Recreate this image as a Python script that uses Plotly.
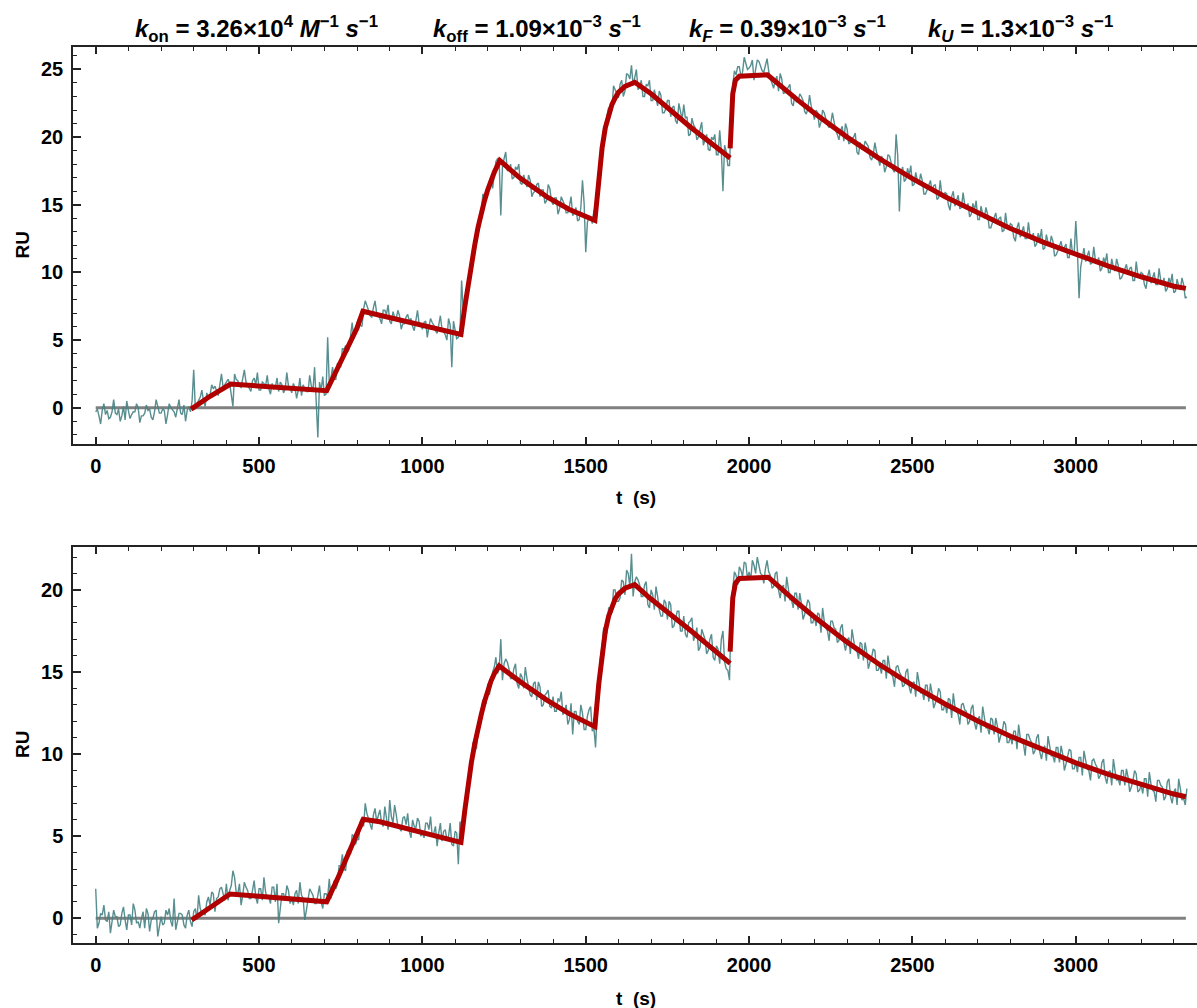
import plotly.graph_objects as go

# ---------------- data ----------------
t_data = list(range(0, 3341, 10))   # sampling times (s)
t_half = list(range(5, 3336, 10))   # interleaved sampling times (s)

top_ru = [
    # 0-290
    -0.3, -0.6, -0.2, -0.5, -0.8, -0.3, -0.4, -0.1, -0.6, -0.9,
    -0.2, -0.5, -0.3, 0.0, -0.6, -0.4, -0.2, -0.7, -0.3, 0.1,
    -0.4, -0.2, -0.5, 0.0, -0.3, -0.1, -0.4, 0.2, -0.2, -0.3,
    # 300-410
    2.8, 0.3, 0.8, 0.5, 1.1, 0.9, 1.4, 1.2, 1.7, 1.5, 2.0, 1.8,
    # 420-700
    0.1, 2.1, 1.6, 2.2, 1.9, 1.5, 2.0, 1.7, 1.3, 1.9,
    1.6, 1.4, 1.8, 1.5, 1.2, 1.7, 1.4, 1.6, 1.1, 1.5,
    1.3, 0.9, 1.4, 1.2, 1.6, 3.0, -2.2, 1.3, 0.9,
    # 710-820
    5.2, 2.2, 2.1, 3.3, 3.0, 4.3, 4.1, 5.3, 5.1, 6.3, 6.1, 7.3,
    # 830-1110
    7.6, 6.8, 7.4, 7.0, 6.6, 7.2, 6.9, 6.4, 7.1, 6.6,
    6.8, 6.2, 6.7, 6.4, 6.0, 6.6, 6.2, 5.8, 6.4, 6.0,
    6.3, 5.7, 6.1, 5.8, 5.4, 6.6, 3.0, 5.6, 5.2,
    # 1120-1230
    9.4, 7.8, 9.0, 11.0, 11.8, 13.6, 14.2, 15.6, 15.9, 17.1, 17.2, 18.4,
    # 1240-1520
    14.2, 18.4, 17.5, 18.0, 17.0, 17.6, 16.6, 17.2, 16.3, 16.8,
    15.9, 16.5, 15.6, 16.1, 15.3, 16.2, 15.0, 15.5, 14.7, 15.3,
    14.4, 14.9, 14.2, 14.8, 13.9, 16.8, 11.5, 14.1, 13.6,
    # 1530-1650
    14.3, 16.6, 19.7, 20.3, 22.2, 22.0, 23.5, 22.9, 24.2, 23.4, 24.6, 25.3, 24.3,
    # 1660-1940
    23.5, 24.2, 23.0, 23.8, 22.7, 23.5, 22.3, 23.1, 21.8, 22.7,
    21.5, 22.3, 21.0, 21.9, 22.4, 21.5, 20.2, 20.9, 19.8, 20.6,
    19.4, 20.2, 19.0, 19.8, 18.7, 20.5, 16.0, 18.9, 17.9,
    # 1950-2050
    23.8, 24.6, 25.2, 24.8, 25.5, 25.1, 25.7, 25.0, 25.6, 24.9, 25.4,
    # 2060-3340
    24.9, 24.0, 24.2, 23.4, 24.3, 23.3, 23.6, 22.5, 23.1,
    22.6, 23.0, 21.9, 22.1, 22.3, 21.3, 21.8, 21.1, 21.8, 20.9,
    21.0, 21.1, 20.2, 20.5, 19.7, 20.6, 19.6, 20.0, 18.9, 19.6,
    19.1, 19.5, 18.5, 18.7, 18.9, 17.9, 18.4, 17.8, 18.6, 17.6,
    20.2, 14.5, 17.8, 16.9, 17.2, 16.4,
    17.4, 16.5, 16.8, 15.8, 16.5, 16.0, 16.5, 15.5, 15.7, 15.9,
    15.0, 15.6, 14.9, 15.7, 14.8, 15.0, 15.1, 14.3, 14.6, 13.9,
    14.9, 14.0, 14.3, 13.3, 14.0, 13.6, 14.1, 13.1, 13.4, 13.6,
    12.6, 13.3, 12.6, 13.4, 12.5, 12.7, 12.9, 12.1, 12.4, 11.7,
    12.8, 11.9, 12.3, 11.3, 12.0, 11.6, 12.1, 11.1, 11.4, 13.8,
    8.1, 11.3, 10.8, 11.6, 10.7, 10.9, 11.1, 10.3, 10.7, 10.0,
    11.0, 10.1, 10.5, 9.6, 10.3, 9.9, 10.4, 9.4, 9.8, 10.0,
    9.1, 9.7, 9.2, 10.0, 9.1, 9.4, 9.6, 8.8, 9.2, 8.5,
    9.5, 8.7, 9.1, 8.2,
]

top_ru_half = [
    # 5-295
    -0.1, -1.2, 0.3, -0.2, -0.7, 0.6, -0.5, -1.0, 0.1, 0.5,
    -0.8, -0.3, 0.3, -1.1, -0.6, 0.2, -0.1, -0.9, 0.6, -0.4,
    -0.1, -1.2, 0.3, -0.2, -0.7, 0.6, -0.5, -1.0, 0.1, 0.5,
    # 305-405
    -0.1, 0.6, 1.3, 0.1, 0.7, 1.7, 1.6, 0.9, 2.5, 1.7, 2.1,
    # 415-705
    1.1, 2.5, 2.0, 1.5, 2.8, 1.7, 1.2, 2.2, 2.6, 1.3,
    1.8, 2.4, 1.0, 1.4, 2.2, 1.9, 1.1, 2.6, 1.5, 1.8,
    0.7, 2.2, 1.7, 1.2, 2.4, 1.3, 0.8, 1.9, 2.3, 1.0,
    # 715-825
    1.8, 3.0, 2.1, 3.1, 4.4, 4.6, 4.3, 6.3, 5.8, 6.6, 6.0, 7.9,
    # 835-1115
    7.2, 6.7, 7.9, 6.8, 6.2, 7.2, 7.6, 6.2, 6.7, 7.2,
    5.8, 6.2, 6.9, 6.6, 5.7, 7.2, 6.1, 6.3, 5.2, 6.6,
    6.1, 5.5, 6.8, 5.6, 5.0, 6.1, 6.4, 5.1, 5.5,
    # 1125-1235
    7.2, 7.6, 9.7, 11.9, 12.9, 13.3, 15.8, 15.6, 16.7, 16.2, 18.2, 18.2,
    # 1245-1525
    17.8, 18.9, 17.6, 16.9, 17.8, 18.0, 16.5, 16.8, 17.2, 15.6,
    16.0, 16.6, 16.1, 15.1, 16.5, 15.3, 15.5, 14.3, 15.6, 15.0,
    14.4, 15.6, 14.4, 13.8, 14.8, 15.1, 13.7, 14.1, 14.6,
    # 1535-1645
    14.9, 18.1, 20.7, 21.6, 21.7, 23.8, 23.2, 23.9, 23.0, 24.7, 24.3, 23.8,
    # 1655-1945
    25.0, 23.7, 23.0, 23.9, 24.2, 22.7, 23.0, 23.4, 21.8, 22.1,
    22.7, 22.2, 21.2, 22.5, 21.3, 21.4, 20.1, 21.4, 20.7, 20.0,
    21.1, 19.8, 19.1, 20.0, 20.2, 18.7, 19.0, 19.4, 17.9, 21.2,
    # 1955-2055
    24.9, 25.2, 24.5, 25.9, 25.0, 25.3, 24.2, 25.7, 25.3, 24.8, 25.8,
    # 2065-3335
    24.3, 23.6, 24.5, 24.7, 23.2, 23.5, 23.9, 22.3, 22.6, 23.2,
    22.7, 21.7, 23.1, 21.9, 22.0, 20.7, 22.0, 21.3, 20.7, 21.8,
    20.5, 19.8, 20.8, 21.0, 19.5, 19.9, 20.3, 18.7, 19.1, 19.7,
    19.3, 18.3, 19.6, 18.5, 18.6, 17.4, 18.7, 18.1, 17.4, 18.6,
    17.4, 16.7, 17.7, 17.9, 16.5, 16.8, 17.3, 15.8, 16.1, 16.8,
    16.4, 15.4, 16.8, 15.7, 15.8, 14.6, 16.0, 15.4, 14.7, 15.9,
    14.7, 14.1, 15.1, 15.3, 13.9, 14.3, 14.8, 13.3, 13.7, 14.4,
    14.0, 13.0, 14.4, 13.3, 13.5, 12.3, 13.7, 13.1, 12.5, 13.7,
    12.5, 11.9, 12.9, 13.2, 11.8, 12.2, 12.7, 11.2, 11.6, 12.3,
    11.9, 11.1, 12.5, 11.4, 11.6, 10.4, 11.8, 11.2, 10.6, 11.9,
    10.7, 10.1, 11.1, 11.4, 10.0, 10.4, 11.0, 9.5, 9.9, 10.6,
    10.3, 9.4, 10.8, 9.7, 9.9, 8.8, 10.2, 9.6, 9.1, 10.3,
    9.1, 8.6, 9.6, 9.9, 8.6, 9.0, 9.6, 8.1,
]

bottom_ru = [
    # 0-290
    1.8, -0.3, 0.2, -0.1, 0.4, -0.2, 0.1, -0.5, 0.3, -0.1,
    0.2, -0.4, 0.5, -0.2, 0.0, -0.6, 0.3, -0.1, 0.4, -1.1,
    0.1, -0.3, 0.2, -0.2, 1.2, -0.1, 0.3, -0.4, 0.2, -0.2,
    # 300-410
    0.4, -0.1, 0.6, 0.3, 1.0, 0.8, 1.5, 1.2, 1.8, 1.5, 2.1, 1.7,
    # 420-700
    2.9, 1.6, 2.1, 1.4, 1.9, 1.2, 1.7, 1.3, 1.8, 1.1,
    1.6, 1.3, 1.9, 1.0, -0.3, 1.5, 1.1, 1.7, 1.2, 1.5,
    0.9, 1.4, -0.1, 1.3, 1.6, 0.9, 1.4, 1.0, 1.5,
    # 710-820
    1.3, 1.2, 2.3, 2.1, 3.2, 3.0, 4.1, 3.9, 5.0, 4.8, 5.9, 5.6,
    # 830-1110
    6.4, 5.7, 6.3, 5.9, 6.6, 5.6, 6.2, 7.2, 5.8, 6.3,
    5.5, 6.1, 5.7, 5.3, 6.0, 5.5, 5.9, 5.2, 5.8, 5.4,
    5.0, 5.6, 5.2, 4.7, 5.4, 5.0, 4.5, 5.3, 3.3,
    # 1120-1230
    5.2, 6.4, 8.6, 9.3, 10.8, 11.3, 12.9, 13.1, 14.3, 14.2, 15.3, 14.9,
    # 1240-1520
    17.0, 15.5, 15.6, 14.6, 15.2, 14.3, 14.9, 14.0, 14.6, 13.6,
    14.3, 13.3, 14.1, 13.0, 13.7, 12.9, 13.5, 12.6, 13.2, 12.4,
    13.0, 12.1, 11.2, 12.6, 11.8, 12.5, 11.5, 12.7, 11.4,
    # 1530-1650
    10.4, 14.0, 16.6, 17.2, 18.9, 18.6, 20.0, 19.3, 20.6, 19.7, 21.0, 22.2, 20.5,
    # 1660-1940
    20.6, 19.6, 20.3, 19.1, 20.0, 18.8, 19.6, 18.4, 19.4, 18.2,
    19.1, 17.8, 18.7, 17.5, 18.4, 17.1, 18.1, 16.9, 17.7, 16.5,
    17.3, 16.1, 17.0, 15.9, 16.6, 15.5, 17.5, 15.2, 14.5,
    # 1950-2050
    20.0, 20.9, 21.4, 20.8, 21.6, 21.1, 21.8, 21.0, 21.5, 20.9, 21.3,
    # 2060-3340
    21.1, 20.1, 21.0, 20.0, 20.1, 19.3, 20.1, 19.4, 19.8, 18.8,
    19.2, 18.5, 19.4, 18.0, 18.4, 18.6, 17.4, 18.1, 17.5, 18.1,
    17.7, 16.8, 17.7, 16.8, 16.9, 16.1, 16.9, 16.3, 16.8, 15.7,
    16.2, 15.6, 16.4, 15.1, 15.4, 15.7, 14.6, 15.3, 14.7, 15.3,
    15.0, 14.1, 15.0, 14.1, 14.3, 13.5, 14.4, 13.8, 14.2, 13.2,
    13.7, 13.1, 14.0, 12.7, 13.1, 13.4, 12.2, 12.9, 12.4, 13.0,
    12.7, 11.8, 12.8, 11.9, 12.1, 11.3, 12.2, 11.6, 12.2, 11.2,
    11.7, 11.1, 12.0, 10.7, 11.1, 11.4, 10.3, 11.0, 10.6, 11.2,
    10.9, 10.0, 11.0, 10.1, 10.3, 9.6, 10.5, 9.9, 10.4, 9.5,
    10.0, 9.4, 10.3, 9.1, 9.5, 9.8, 8.7, 9.5, 9.0, 9.6,
    9.4, 8.5, 9.5, 8.6, 8.9, 8.1, 9.0, 8.5, 9.0, 8.1,
    8.6, 8.0, 9.0, 7.7, 8.1, 8.5, 7.4, 8.2, 7.7, 8.4,
    8.1, 7.2, 8.3, 7.4, 7.7, 6.9, 7.9, 7.3, 7.9,
]

bottom_ru_half = [
    # 5-295
    -0.6, 0.3, 0.8, -0.2, -0.9, 0.5, 0.1, -0.4, 0.7, -0.7,
    0.2, 0.9, -0.3, -0.6, 0.4, 0.6, -0.8, 0.0, 0.5, -0.5,
    -0.4, 0.5, 0.6, -0.5, -0.7, 0.3, 0.2, -0.6, 0.5, -0.5,
    # 305-405
    0.6, 1.4, 0.3, 0.2, 1.3, 1.6, 0.4, 1.3, 1.9, 1.1, 1.1,
    # 415-705
    2.0, 2.5, 1.5, 0.8, 2.2, 1.7, 1.2, 2.3, 0.9, 1.8,
    2.5, 1.2, 0.9, 1.9, 2.1, 0.7, 1.5, 2.0, 0.9, 0.8,
    1.7, 2.2, 1.2, 0.5, 1.8, 1.4, 0.9, 2.0, 0.6, 1.5,
    # 715-825
    2.4, 1.6, 1.8, 3.2, 3.9, 2.9, 4.2, 5.1, 4.5, 4.8, 6.1, 7.0,
    # 835-1115
    6.1, 5.4, 6.7, 6.3, 5.8, 6.8, 5.4, 6.2, 6.9, 5.6,
    5.3, 6.2, 6.4, 4.9, 5.6, 6.1, 5.0, 4.9, 5.8, 6.2,
    5.2, 4.4, 5.8, 5.3, 4.8, 5.8, 4.4, 5.2, 5.9,
    # 1125-1235
    5.4, 6.9, 9.3, 10.7, 10.3, 12.0, 13.3, 13.1, 13.6, 15.0, 15.9, 15.2,
    # 1245-1525
    14.5, 15.8, 15.2, 14.6, 15.5, 14.0, 14.7, 15.3, 14.0, 13.5,
    14.4, 14.4, 12.9, 13.6, 13.9, 12.8, 12.6, 13.4, 13.8, 12.6,
    11.8, 13.1, 12.6, 12.0, 13.0, 11.5, 12.3, 12.9, 11.6,
    # 1535-1645
    12.6, 15.9, 17.7, 17.4, 18.9, 20.0, 19.3, 19.5, 20.5, 21.2, 20.2, 19.6,
    # 1655-1945
    20.8, 20.3, 19.6, 20.5, 18.9, 19.7, 20.2, 18.8, 18.4, 19.2,
    19.3, 17.7, 18.3, 18.7, 17.5, 17.3, 18.0, 18.3, 17.2, 16.3,
    17.6, 17.0, 16.3, 17.3, 15.7, 16.4, 17.0, 15.6, 15.1, 18.4,
    # 1955-2055
    21.1, 20.3, 21.2, 21.7, 20.7, 20.6, 21.5, 22.0, 21.0, 20.4, 21.8,
    # 2065-3335
    20.9, 20.2, 21.1, 19.5, 20.3, 20.8, 19.4, 18.9, 19.8, 19.8,
    18.2, 18.9, 19.2, 18.0, 17.8, 18.5, 18.9, 17.7, 16.9, 18.1,
    17.6, 16.9, 17.9, 16.3, 17.1, 17.6, 16.3, 15.8, 16.7, 16.8,
    15.2, 15.9, 16.3, 15.1, 14.9, 15.7, 16.0, 14.9, 14.1, 15.4,
    14.8, 14.2, 15.2, 13.7, 14.4, 15.0, 13.7, 13.3, 14.2, 14.3,
    12.8, 13.4, 13.8, 12.7, 12.5, 13.3, 13.7, 12.6, 11.8, 13.1,
    12.6, 12.0, 13.0, 11.5, 12.3, 12.9, 11.6, 11.2, 12.1, 12.2,
    10.7, 11.4, 11.8, 10.7, 10.6, 11.4, 11.8, 10.7, 9.9, 11.2,
    10.7, 10.2, 11.2, 9.7, 10.5, 11.1, 9.9, 9.5, 10.4, 10.5,
    9.0, 9.8, 10.2, 9.1, 8.9, 9.8, 10.2, 9.1, 8.4, 9.7,
    9.2, 8.7, 9.7, 8.2, 9.0, 9.7, 8.4, 8.1, 9.0, 9.1,
    7.7, 8.4, 8.8, 7.8, 7.6, 8.5, 8.9, 7.8, 7.1, 8.4,
    8.0, 7.4, 8.5, 7.0, 7.9, 8.5, 7.2, 6.9,
]

top_fit_t = [292, 350, 413, 500, 600, 707, 740, 770, 800, 818, 900, 1000, 1118,
             1130, 1140, 1150, 1160, 1170, 1180, 1190, 1200, 1210, 1220, 1237,
             1300, 1380, 1450, 1528, 1540, 1550, 1560, 1570, 1580, 1590, 1600,
             1620, 1650, 1700, 1820, 1942, None,
             1942, 1945, 1950, 1958, 1970, 2056, 2100, 2150, 2200, 2300, 2400,
             2500, 2600, 2700, 2800, 2900, 3000, 3100, 3200, 3300, 3337]
top_fit_ru = [-0.1, 0.85, 1.75, 1.6, 1.43, 1.26, 2.9, 4.4, 5.9, 7.13, 6.68, 6.11, 5.42,
              7.5, 9.2, 10.7, 12.0, 13.3, 14.4, 15.3, 16.1, 16.8, 17.4, 18.26,
              16.95, 15.6, 14.65, 13.85, 17.0, 19.2, 20.7, 21.7, 22.4, 22.9, 23.3,
              23.75, 24.05, 23.2, 20.75, 18.45, None,
              19.17, 21.5, 23.2, 24.2, 24.5, 24.6, 23.69, 22.71, 21.76, 20.0, 18.39,
              16.93, 15.59, 14.37, 13.25, 12.24, 11.31, 10.46, 9.68, 8.98, 8.82]

bottom_fit_t = [294, 350, 411, 500, 600, 707, 740, 770, 800, 819, 870, 1000, 1118,
                1130, 1140, 1150, 1160, 1170, 1180, 1190, 1200, 1210, 1220, 1235,
                1300, 1380, 1450, 1528, 1540, 1550, 1560, 1570, 1580, 1590, 1600,
                1620, 1650, 1697, 1819, 1942, None,
                1942, 1945, 1950, 1958, 1970, 2059, 2100, 2150, 2200, 2300, 2400,
                2500, 2600, 2700, 2800, 2900, 3000, 3100, 3200, 3300, 3337]
bottom_fit_ru = [-0.1, 0.67, 1.48, 1.34, 1.18, 1.01, 2.4, 3.75, 5.0, 6.03, 5.88, 5.22, 4.63,
                 6.6, 8.3, 9.5, 10.6, 11.6, 12.4, 13.2, 13.9, 14.45, 14.9, 15.37,
                 14.4, 13.3, 12.45, 11.67, 14.3, 16.2, 17.5, 18.4, 19.0, 19.45, 19.75,
                 20.1, 20.32, 19.49, 17.56, 15.53, None,
                 16.24, 18.0, 19.5, 20.4, 20.7, 20.77, 20.03, 19.17, 18.35, 16.82, 15.44,
                 14.19, 13.05, 12.02, 11.09, 10.24, 9.47, 8.77, 8.14, 7.57, 7.4]

baseline_t = [t_data[0], top_fit_t[-1]]
baseline_ru = [0, 0]

title_terms = [
    "<b><i>k</i><sub>on</sub> = 3.26×10<sup>4</sup> <i>M</i><sup>−1</sup> <i>s</i><sup>−1</sup></b>",
    "<b><i>k</i><sub>off</sub> = 1.09×10<sup>−3</sup> <i>s</i><sup>−1</sup></b>",
    "<b><i>k<sub>F</sub></i> = 0.39×10<sup>−3</sup> <i>s</i><sup>−1</sup></b>",
    "<b><i>k<sub>U</sub></i> = 1.3×10<sup>−3</sup> <i>s</i><sup>−1</sup></b>",
]

assert len(top_ru) == len(t_data), len(top_ru)
assert len(bottom_ru) == len(t_data), len(bottom_ru)
assert len(top_ru_half) == len(t_half), len(top_ru_half)
assert len(bottom_ru_half) == len(t_half), len(bottom_ru_half)
assert len(top_fit_t) == len(top_fit_ru)
assert len(bottom_fit_t) == len(bottom_fit_ru)


def merge(ta, ya, tb, yb):
    pts = sorted(zip(ta + tb, ya + yb))
    return [p[0] for p in pts], [p[1] for p in pts]


top_t_all, top_y_all = merge(t_data, top_ru, t_half, top_ru_half)
bot_t_all, bot_y_all = merge(t_data, bottom_ru, t_half, bottom_ru_half)

# ---------------- figure ----------------
W, H = 1197, 1008
FONT = "Liberation Sans, Arial, sans-serif"
TEAL = "rgb(70,130,132)"
RED = "rgb(176,0,0)"
GRAY = "rgb(128,128,128)"
AX = "rgb(35,35,35)"

fig = go.Figure()
for ax, tt, ys, ft, fy in [("", top_t_all, top_y_all, top_fit_t, top_fit_ru),
                           ("2", bot_t_all, bot_y_all, bottom_fit_t, bottom_fit_ru)]:
    fig.add_trace(go.Scatter(x=baseline_t, y=baseline_ru, mode="lines",
                             line=dict(color=GRAY, width=3),
                             xaxis="x" + ax, yaxis="y" + ax, showlegend=False))
    fig.add_trace(go.Scatter(x=tt, y=ys, mode="lines",
                             line=dict(color=TEAL, width=1.4),
                             opacity=0.9,
                             xaxis="x" + ax, yaxis="y" + ax, showlegend=False))
    fig.add_trace(go.Scatter(x=ft, y=fy, mode="lines", connectgaps=False,
                             line=dict(color=RED, width=5),
                             xaxis="x" + ax, yaxis="y" + ax, showlegend=False))


def px_x(p):
    return p / W


def px_y(p):
    return 1 - p / H


tickfont = dict(family=FONT, size=20, color="black", weight="bold")
common_x = dict(range=[-69.5, 3371], showline=True, linecolor=AX, linewidth=1.5,
                mirror="ticks", ticks="inside", ticklen=8, tickwidth=1.5,
                tickcolor=AX, tick0=0, dtick=500,
                minor=dict(dtick=100, ticks="inside", ticklen=4.5, tickwidth=1,
                           tickcolor=AX, showgrid=False),
                showgrid=False, zeroline=False, tickfont=tickfont,
                ticklabelstandoff=3, automargin=False,
                domain=[px_x(73), 1])
common_y = dict(showline=True, linecolor=AX, linewidth=1.5, mirror=False,
                ticks="inside", ticklen=8, tickwidth=1.5, tickcolor=AX,
                tick0=0, dtick=5,
                minor=dict(dtick=1, ticks="inside", ticklen=4.5, tickwidth=1,
                           tickcolor=AX, showgrid=False),
                showgrid=False, zeroline=False, tickfont=tickfont,
                ticklabelstandoff=4, automargin=False)

fig.update_layout(
    width=W, height=H, margin=dict(l=0, r=0, t=0, b=0),
    paper_bgcolor="white", plot_bgcolor="white",
    xaxis=dict(**common_x, anchor="y"),
    yaxis=dict(**common_y, range=[-2.70, 26.68], anchor="x",
               domain=[px_y(444.3), px_y(46.7)]),
    xaxis2=dict(**common_x, anchor="y2"),
    yaxis2=dict(**common_y, range=[-1.52, 22.63], anchor="x2",
                domain=[px_y(943.3), px_y(546.7)]),
)

annots = []
for txt, cx in zip(title_terms, [256, 537, 787, 1020]):
    annots.append(dict(text=txt, x=px_x(cx), y=px_y(29), xref="paper", yref="paper",
                       xanchor="center", yanchor="middle", showarrow=False,
                       font=dict(family=FONT, size=24, color="black")))
for cy in [497, 998]:
    annots.append(dict(text="<b>t\u00a0\u00a0(s)</b>", x=px_x(636), y=px_y(cy),
                       xref="paper", yref="paper", xanchor="center", yanchor="middle",
                       showarrow=False, font=dict(family=FONT, size=19, color="black")))
for cy in [245.5, 745]:
    annots.append(dict(text="<b>RU</b>", x=px_x(22), y=px_y(cy), xref="paper",
                       yref="paper", xanchor="center", yanchor="middle", textangle=-90,
                       showarrow=False, font=dict(family=FONT, size=19, color="black")))
fig.update_layout(annotations=annots)

fig.write_html("out.html")
